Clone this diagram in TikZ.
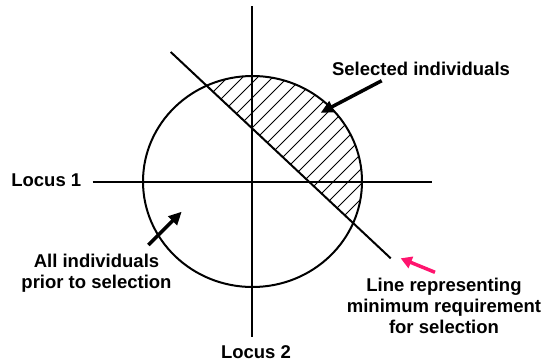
\documentclass[tikz,border=0pt]{standalone}
\usepackage{fontspec}
\setmainfont{Liberation Sans}
\usetikzlibrary{arrows.meta}
\definecolor{reqpink}{RGB}{255,20,110}
\tikzset{
  axis/.style={line width=2pt},
  hatchline/.style={line width=0.9pt},
  txt/.style={font=\fontsize{18.5}{21}\selectfont\bfseries, inner sep=0pt, align=center},
  pointer/.style={line width=3.5pt, -{Triangle[length=13pt,width=12pt]}},
}
\begin{document}
\begin{tikzpicture}[x=1pt,y=-1pt]
\useasboundingbox (0,0) rectangle (544,362);
\coordinate (ctr) at (252.5,181.5);
\coordinate (l1a) at (92.7,182.3);
\coordinate (l1b) at (431.7,182.3);
\coordinate (l2a) at (252.3,6);
\coordinate (l2b) at (252.3,337);
\coordinate (minA) at (170.7,52);
\coordinate (minB) at (390.7,258.3);
\begin{scope}
\clip (ctr) ellipse [x radius=109.5pt, y radius=105.5pt];
\clip (115.2,0) -- (435.2,300) -- (500,300) -- (500,0) -- cycle;
\foreach \c in {155,170,...,725}
  \draw[hatchline] (\c-300,300) -- (\c,0);
\end{scope}
\draw[axis] (l1a) -- (l1b);
\draw[axis] (l2a) -- (l2b);
\draw[axis] (ctr) ellipse [x radius=109.5pt, y radius=105.5pt];
\draw[axis] (minA) -- (minB);
\node[txt, anchor=base] (sel) at (421,75) {Selected individuals};
\node[txt, anchor=base] (loc1) at (46.3,186) {Locus 1};
\node[txt, anchor=base] (loc2) at (256,358) {Locus 2};
\node[txt, anchor=north] (all) at (96.5,254.3) {All individuals\\prior to selection};
\node[txt, anchor=north] (req) at (444,278.3) {Line representing\\minimum requirement\\for selection};
\coordinate (selTail) at (381.7,80.7);
\coordinate (selTip) at (320.7,112.7);
\coordinate (allTail) at (148.3,245);
\coordinate (allTip) at (181.7,211.7);
\coordinate (reqTail) at (435,272.3);
\coordinate (reqTip) at (400.7,258.3);
\draw[pointer] (selTail) -- (selTip);
\draw[pointer] (allTail) -- (allTip);
\draw[pointer, reqpink, -{Triangle[length=11pt,width=12pt]}] (reqTail) -- (reqTip);
\end{tikzpicture}
\end{document}
